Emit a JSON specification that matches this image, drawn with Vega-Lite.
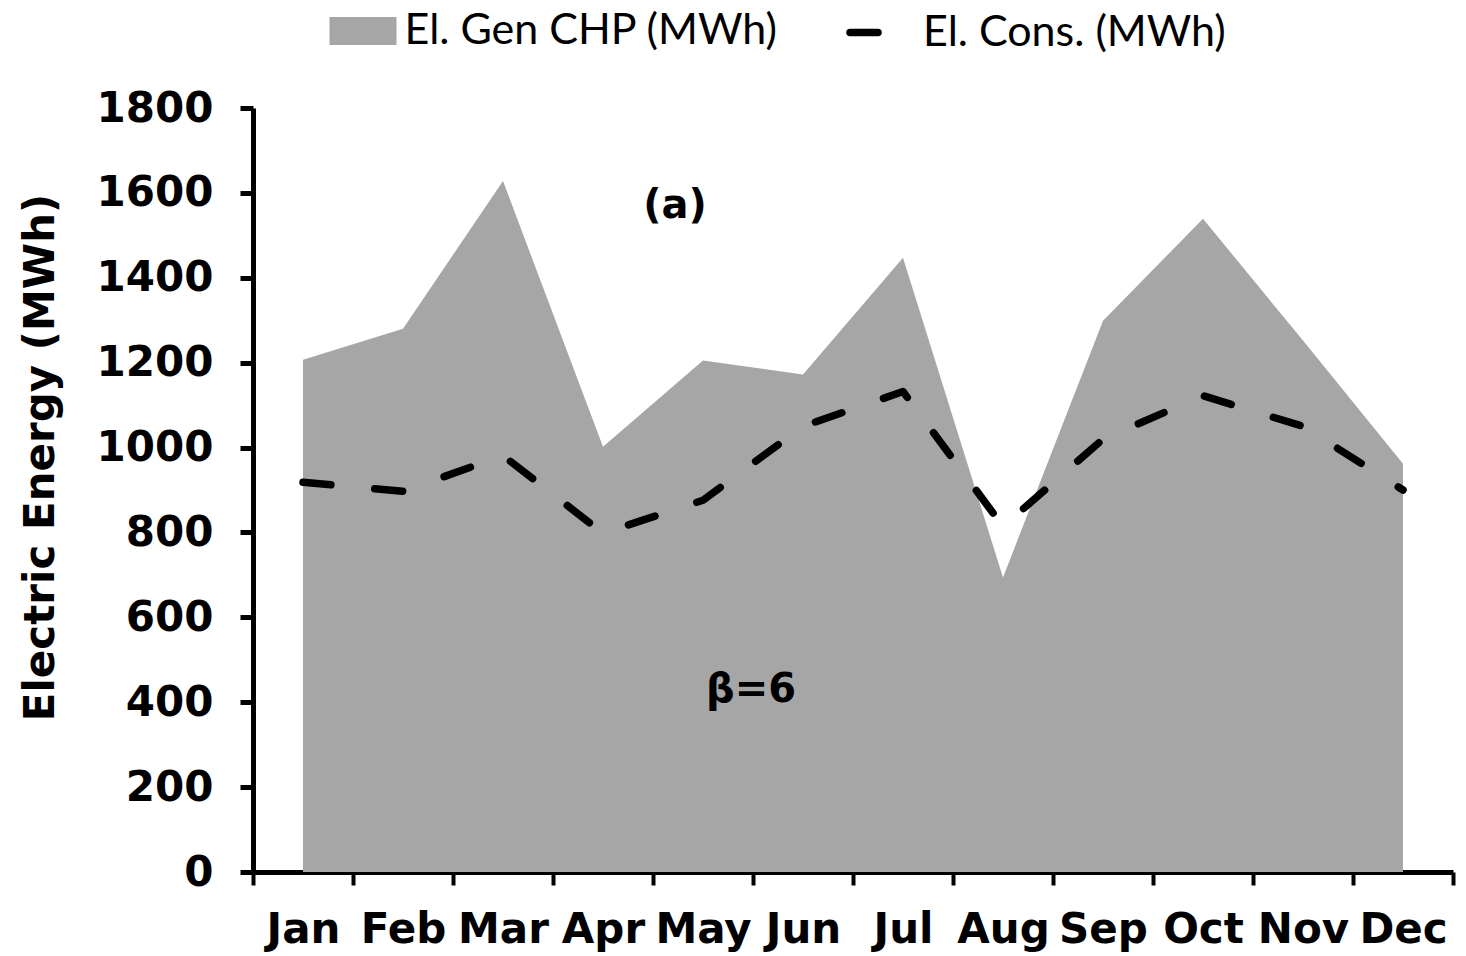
{
  "$schema": "https://vega.github.io/schema/vega-lite/v6.json",
  "width": 1200,
  "height": 764,
  "autosize": {"type": "none"},
  "padding": {"left": 253, "top": 108, "right": 13, "bottom": 84},
  "background": "white",
  "config": {"view": {"stroke": null}, "font": "DejaVu Sans"},
  "data": {"values": [
    {"month": "Jan", "gen": 1207, "cons": 918},
    {"month": "Feb", "gen": 1280, "cons": 897},
    {"month": "Mar", "gen": 1628, "cons": 981},
    {"month": "Apr", "gen": 1002, "cons": 798},
    {"month": "May", "gen": 1205, "cons": 876},
    {"month": "Jun", "gen": 1172, "cons": 1050},
    {"month": "Jul", "gen": 1447, "cons": 1132},
    {"month": "Aug", "gen": 694, "cons": 814},
    {"month": "Sep", "gen": 1299, "cons": 1020},
    {"month": "Oct", "gen": 1539, "cons": 1122},
    {"month": "Nov", "gen": 1252, "cons": 1050},
    {"month": "Dec", "gen": 962, "cons": 900}
  ]},
  "layer": [
    {
      "mark": {"type": "area", "color": "#a6a6a6"},
      "encoding": {
        "x": {"field": "month", "type": "ordinal", "bandPosition": 0.5,
          "scale": {"type": "band", "paddingInner": 0, "paddingOuter": 0, "domain": ["Jan","Feb","Mar","Apr","May","Jun","Jul","Aug","Sep","Oct","Nov","Dec"]},
          "axis": {"title": null, "tickBand": "extent", "tickSize": 13, "tickWidth": 4, "tickColor": "black", "domainColor": "black", "domainWidth": 5, "labelAngle": 0, "labelFont": "DejaVu Sans", "labelFontWeight": "bold", "labelFontSize": 42, "labelColor": "black", "labelPadding": 24, "labelOverlap": false, "grid": false}},
        "y": {"field": "gen", "type": "quantitative",
          "scale": {"domain": [0, 1800], "nice": false},
          "axis": {"title": "Electric Energy (MWh)", "format": "d", "values": [0,200,400,600,800,1000,1200,1400,1600,1800], "tickSize": 13, "tickWidth": 5, "tickColor": "black", "domainColor": "black", "domainWidth": 5, "labelFont": "DejaVu Sans", "labelFontWeight": "bold", "labelFontSize": 42, "labelColor": "black", "labelPadding": 27, "grid": false, "titleFont": "DejaVu Sans", "titleFontWeight": "bold", "titleFontSize": 42, "titleColor": "black", "titlePadding": 34, "titleY": 349}},
        "fill": {"datum": "El. Gen CHP (MWh)", "scale": {"range": ["#a6a6a6"]},
          "legend": {"title": null, "orient": "none", "legendX": 76.5, "legendY": -110.5, "padding": 0, "symbolType": "M-1,-0.418H1V0.418H-1Z", "symbolSize": 4489, "symbolStrokeWidth": 0, "symbolOpacity": 1, "labelFont": "Lato", "labelFontSize": 43, "labelColor": "black", "labelOffset": 8, "labelLimit": 2000}}
      }
    },
    {
      "mark": {"type": "line", "color": "black", "strokeWidth": 7.5, "strokeCap": "round", "strokeJoin": "round"},
      "encoding": {
        "x": {"field": "month", "type": "ordinal", "bandPosition": 0.5},
        "y": {"field": "cons", "type": "quantitative"},
        "strokeDash": {"datum": "El. Cons. (MWh)", "scale": {"range": [[28, 44]]},
          "legend": {"title": null, "orient": "none", "legendX": 593, "legendY": -97, "padding": 0, "symbolType": "stroke", "symbolSize": 1225, "symbolStrokeWidth": 7.5, "symbolStrokeColor": "black", "symbolDash": [1, 0], "labelFont": "Lato", "labelFontSize": 43, "labelColor": "black", "labelOffset": 34, "labelLimit": 2000,
            "encode": {"symbols": {"update": {"strokeCap": {"value": "round"}, "strokeDash": {"value": [1, 0]}}}}}}
      }
    },
    {
      "data": {"values": [{"month": "May", "value": 1569, "label": "(a)"}]},
      "mark": {"type": "text", "font": "DejaVu Sans", "fontWeight": "bold", "fontSize": 40, "color": "black", "align": "center", "baseline": "middle"},
      "encoding": {
        "x": {"field": "month", "type": "ordinal", "bandPosition": 0.22},
        "y": {"field": "value", "type": "quantitative"},
        "text": {"field": "label"}
      }
    },
    {
      "data": {"values": [{"month": "May", "value": 428, "label": "β=6"}]},
      "mark": {"type": "text", "font": "DejaVu Sans", "fontWeight": "bold", "fontSize": 40, "color": "black", "align": "center", "baseline": "middle"},
      "encoding": {
        "x": {"field": "month", "type": "ordinal", "bandPosition": 0.98},
        "y": {"field": "value", "type": "quantitative"},
        "text": {"field": "label"}
      }
    }
  ]
}
